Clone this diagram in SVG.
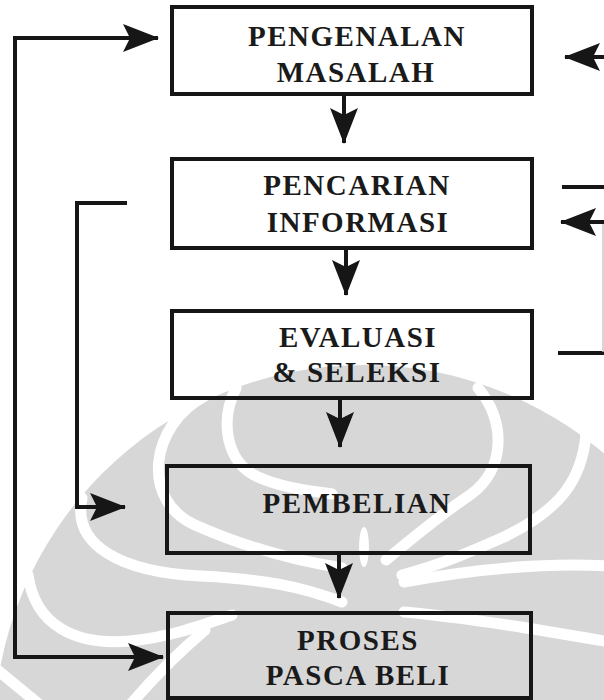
<svg xmlns="http://www.w3.org/2000/svg" width="604" height="700" viewBox="0 0 604 700">
  <style>
    .box { fill: none; stroke: #161616; stroke-width: 4; }
    .lbl { font-family: "Liberation Serif", "Times New Roman", serif; font-weight: bold; font-size: 29px; letter-spacing: 1.5px; fill: #1a1a1a; text-anchor: middle; }
    .wire { fill: none; stroke: #161616; stroke-width: 4; }
    .mark { fill: #d7d7d7; }
    .gap { fill: none; stroke: #ffffff; stroke-width: 11; stroke-linecap: round; }
  </style>
  <defs>
    <marker id="head" viewBox="0 0 36 28" markerWidth="36" markerHeight="28" refX="35" refY="14" markerUnits="userSpaceOnUse" orient="auto-start-reverse">
      <path d="M0,0 L36,14 L0,28 L7,14 z" fill="#161616"/>
    </marker>
    <clipPath id="page"><rect x="0" y="0" width="604" height="700"/></clipPath>
  </defs>

  <rect x="0" y="0" width="604" height="700" fill="#ffffff"/>

  <!-- background emblem -->
  <g id="emblem" clip-path="url(#page)">
    <circle class="mark" cx="364" cy="735" r="370"/>
    <path class="gap" d="M236,388 C220,420 225,462 258,477 C280,487 305,490 332,494"/>
    <path class="gap" d="M205,396 C150,425 140,500 195,525 C240,545 292,560 342,568"/>
    <path class="gap" d="M82,498 C72,545 120,572 200,576 C262,579 300,586 342,602"/>
    <path class="gap" d="M28,575 C35,625 75,646 130,641 C170,637 200,626 232,615"/>
    <path class="gap" d="M-5,668 L40,705"/>
    <path class="gap" d="M205,630 C172,658 148,684 130,705"/>
    <path class="gap" d="M478,388 C506,420 506,470 470,495 C440,515 410,540 386,560"/>
    <path class="gap" d="M586,434 C582,480 560,510 504,537 C470,552 440,565 402,575"/>
    <path class="gap" d="M404,582 C470,570 540,562 610,566"/>
    <path class="gap" d="M404,612 C470,618 540,630 610,642"/>
    <ellipse cx="364" cy="547" rx="5" ry="20" fill="#ffffff"/>
  </g>

  <!-- connectors -->
  <g id="connectors">
    <line class="wire" x1="344" y1="94" x2="344" y2="143" marker-end="url(#head)"/>
    <line class="wire" x1="346" y1="248" x2="346" y2="295" marker-end="url(#head)"/>
    <line class="wire" x1="340" y1="398" x2="340" y2="447" marker-end="url(#head)"/>
    <line class="wire" x1="339" y1="553" x2="339" y2="598" marker-end="url(#head)"/>
    <polyline class="wire" points="158,38 15,38 15,657 163,657" marker-start="url(#head)" marker-end="url(#head)"/>
    <polyline class="wire" points="127,203 77,203 77,507 125,507" marker-end="url(#head)"/>
    <line class="wire" x1="606" y1="57" x2="565" y2="57" marker-end="url(#head)"/>
    <line class="wire" x1="562" y1="187" x2="606" y2="187"/>
    <line class="wire" x1="606" y1="222" x2="561" y2="222" marker-end="url(#head)"/>
    <line class="wire" x1="558" y1="353" x2="606" y2="353"/>
    <line x1="603" y1="224" x2="603" y2="352" stroke="#c8c8c8" stroke-width="1.5"/>
  </g>

  <g id="pengenalan-masalah">
    <rect class="box" x="172" y="7" width="360" height="87"/>
    <text class="lbl" x="357" y="46">PENGENALAN</text>
    <text class="lbl" x="356" y="82">MASALAH</text>
  </g>

  <g id="pencarian-informasi">
    <rect class="box" x="172" y="159" width="360" height="89"/>
    <text class="lbl" x="357" y="195">PENCARIAN</text>
    <text class="lbl" x="358" y="232">INFORMASI</text>
  </g>

  <g id="evaluasi-seleksi">
    <rect class="box" x="172" y="311" width="360" height="87"/>
    <text class="lbl" x="358" y="347">EVALUASI</text>
    <text class="lbl" x="357" y="382">&amp; SELEKSI</text>
  </g>

  <g id="pembelian">
    <rect class="box" x="167" y="466" width="363" height="87"/>
    <text class="lbl" x="357" y="513">PEMBELIAN</text>
  </g>

  <g id="proses-pasca-beli">
    <rect class="box" x="168" y="613" width="363" height="85"/>
    <text class="lbl" x="358" y="650">PROSES</text>
    <text class="lbl" x="358" y="685">PASCA BELI</text>
  </g>
</svg>
